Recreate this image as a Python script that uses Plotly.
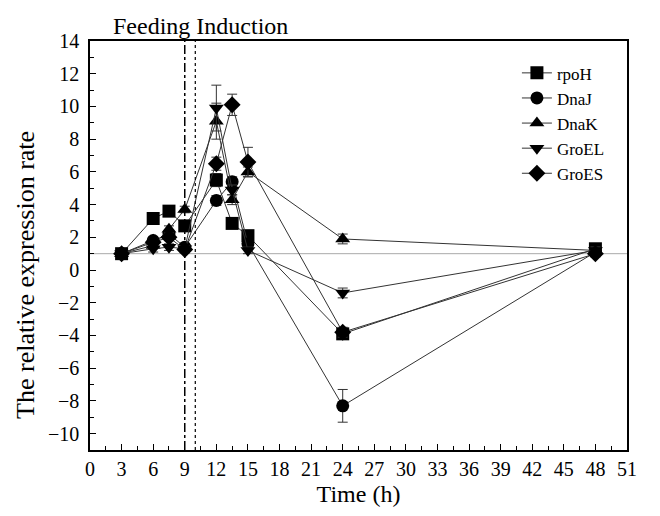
import plotly.graph_objects as go

time_h = [3, 6, 7.5, 9, 12, 13.5, 15, 24, 48]
rpoH = [1.0, 3.15, 3.6, 2.7, 5.5, 2.85, 2.1, -3.9, 1.3]
DnaJ = [1.0, 1.8, 2.2, 1.4, 4.25, 5.4, 1.6, -8.3, 1.1]
DnaK = [1.0, 1.5, 2.5, 3.7, 9.1, 4.3, 6.0, 1.9, 1.2]
GroEL = [1.0, 1.3, 1.4, 1.3, 9.9, 4.9, 1.2, -1.4, 1.2]
GroES = [1.0, 1.7, 2.0, 1.25, 6.5, 10.1, 6.6, -3.8, 1.0]

rpoH_err = [0.1, 0.2, 0.2, 0.2, 0.4, 0.2, 0.2, 0.3, 0.3]
DnaJ_err = [0.1, 0.2, 0.2, 0.2, 0.3, 0.3, 0.2, 1.0, 0.2]
DnaK_err = [0.1, 0.2, 0.2, 0.2, 1.1, 0.3, 0.3, 0.3, 0.2]
GroEL_err = [0.1, 0.2, 0.2, 0.2, 1.4, 0.3, 0.2, 0.3, 0.2]
GroES_err = [0.1, 0.2, 0.2, 0.2, 0.4, 0.65, 0.9, 0.3, 0.2]

series = [
    ("rpoH", rpoH, rpoH_err, "square"),
    ("DnaJ", DnaJ, DnaJ_err, "circle"),
    ("DnaK", DnaK, DnaK_err, "triangle-up"),
    ("GroEL", GroEL, GroEL_err, "triangle-down"),
    ("GroES", GroES, GroES_err, "diamond"),
]

serif = "Liberation Serif"

fig = go.Figure()

# reference lines
fig.add_shape(type="line", xref="paper", yref="y", x0=0, x1=1, y0=1, y1=1,
              line=dict(color="#aaaaaa", width=1), layer="below")
fig.add_shape(type="line", xref="x", yref="paper", x0=9, x1=9, y0=0, y1=1,
              line=dict(color="black", width=1.5, dash="dashdot"))
fig.add_shape(type="line", xref="x", yref="paper", x0=10, x1=10, y0=0, y1=1,
              line=dict(color="black", width=1.2, dash="dot"))

for name, vals, errs, sym in series:
    fig.add_trace(go.Scatter(
        x=time_h, y=vals, name=name, mode="lines+markers",
        line=dict(color="#333333", width=1),
        marker=dict(symbol=sym, size=13, color="black"),
        error_y=dict(type="data", array=errs, visible=True, color="#333333",
                     thickness=1, width=5),
    ))

fig.update_layout(
    width=660, height=516,
    margin=dict(l=82, r=41, t=33, b=74),
    plot_bgcolor="white", paper_bgcolor="white",
    font=dict(family=serif, size=20, color="black"),
    legend=dict(x=0.795, y=0.965, xanchor="left", yanchor="top",
                bgcolor="rgba(0,0,0,0)", font=dict(family=serif, size=17),
                tracegroupgap=0, itemwidth=30),
    annotations=[
        dict(text="Feeding Induction", xref="paper", yref="paper",
             x=0.205, y=1.0, xanchor="center", yanchor="bottom",
             showarrow=False, font=dict(family=serif, size=24)),
        dict(text="The relative expression rate", xref="paper", yref="paper",
             x=-0.12, y=0.427, xanchor="center", yanchor="middle", textangle=-90,
             showarrow=False, font=dict(family=serif, size=26)),
    ],
)

fig.update_xaxes(
    range=[0, 51], tick0=0, dtick=3, ticks="inside", ticklen=6, tickwidth=1.2,
    tickcolor="black", showline=True, linecolor="black", linewidth=1.5, mirror=True,
    showgrid=False, zeroline=False,
    minor=dict(dtick=1.5, ticks="inside", ticklen=4, tickcolor="black", showgrid=False),
    title=dict(text="Time (h)", font=dict(family=serif, size=24), standoff=6),
    tickfont=dict(family=serif, size=20),
)
fig.update_yaxes(
    range=[-11, 14], tick0=0, dtick=2, ticks="inside", ticklen=6, tickwidth=1.2,
    tickcolor="black", showline=True, linecolor="black", linewidth=1.5, mirror=True,
    showgrid=False, zeroline=False, ticklabelstandoff=5,
    minor=dict(dtick=1, ticks="inside", ticklen=4, tickcolor="black", showgrid=False),
    tickfont=dict(family=serif, size=20),
)

fig.write_html("out.html")
